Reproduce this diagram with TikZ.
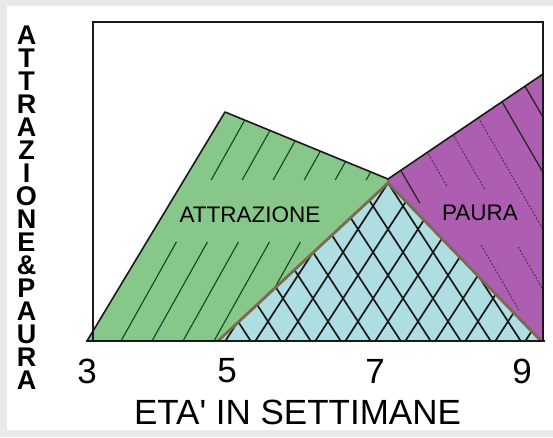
\documentclass[tikz,border=0pt]{standalone}
\usepackage{fontspec}
\setmainfont{Liberation Sans}
\definecolor{attr}{RGB}{135,199,137}
\definecolor{paura}{RGB}{174,94,176}
\definecolor{overlap}{RGB}{174,221,226}
\definecolor{rimcol}{RGB}{122,106,82}
\definecolor{panel}{RGB}{232,233,235}
\tikzset{
  tick/.style={inner sep=0pt, font=\fontsize{35}{36}\selectfont},
  axistitle/.style={inner sep=0pt, font=\fontsize{35}{36}\selectfont},
  ylab/.style={inner sep=0pt, align=center, font=\bfseries\fontsize{27}{23}\selectfont},
  zone/.style={inner sep=0pt, font=\fontsize{22.5}{24}\selectfont},
  hatchg/.style={line width=1.1pt, draw={rgb,255:red,15;green,70;blue,35}},
  hatchp/.style={line width=1.3pt, draw=black!85},
  dotp/.style={line width=0.8pt, draw=black!80, dash pattern=on 2pt off 1.5pt},
  mesh/.style={line width=1.7pt, draw=black!90},
  rim/.style={line width=2.8pt, draw=rimcol, line join=round},
  outline/.style={line width=1.6pt, draw=black!90, line join=round},
  frame/.style={line width=1.3pt, draw=black!90}
}
\begin{document}
\begin{tikzpicture}[x=1pt,y=-1pt]
  \useasboundingbox (0,0) rectangle (553,437);
  \fill[panel] (0,0) rectangle (553,437);
  \fill[white] (7,6) rectangle (553,430);
  % corners of the three zones
  \coordinate (g0) at (87,341);
  \coordinate (gtop) at (225,112);
  \coordinate (mid) at (388,179);
  \coordinate (b0) at (218,341);
  \coordinate (btop) at (388,183);
  \coordinate (b1) at (541,341);
  \coordinate (ptop) at (543,74);
  \coordinate (p1) at (543,341);
  \fill[attr] (g0) -- (gtop) -- (mid) -- (btop) -- (b0) -- cycle;
  \fill[paura] (mid) -- (ptop) -- (p1) -- (b1) -- (btop) -- cycle;
  \fill[overlap] (b0) -- (btop) -- (b1) -- cycle;
  % attrazione hatching
  \begin{scope}
    \clip (g0) -- (gtop) -- (mid) -- (btop) -- (b0) -- cycle;
    \foreach \k in {0,...,5} {
      \pgfmathsetmacro\xa{121+31*\k}
      \draw[hatchg] (\xa,341) -- ++(55.4,-99);
      \draw[hatchg] ({\xa+90.2},180) -- ++(70,-125);
    }
  \end{scope}
  % paura hatching
  \begin{scope}
    \clip (mid) -- (ptop) -- (p1) -- (b1) -- (btop) -- cycle;
    \foreach \c/\ya/\yb/\st in {302/60/203/hatchp, 339/60/187/dotp, 339/245/310/dotp,
        375/60/190/dotp, 375/247/290/dotp, 410/60/240/dotp, 443/60/180/hatchp, 475/60/130/hatchp}
      \draw[\st] ({\c+0.58*\ya},\ya) -- ({\c+0.58*\yb},\yb);
  \end{scope}
  % overlap lattice
  \begin{scope}
    \clip (b0) -- (btop) -- (b1) -- cycle;
    \foreach \k in {2,...,22} {
      \draw[mesh] ({15.3+30*\k},341) -- ++(110.5,-170);
      \draw[mesh] ({10.7+30*\k},341) -- ++(-110.5,-170);
    }
  \end{scope}
  \draw[rim] (b0) -- (btop) -- (b1);
  \draw[rim] (mid) -- (btop);
  \draw[outline] (g0) -- (gtop) -- (mid) -- (ptop);
  % frame and axis
  \draw[frame] (93,341) -- (93,22) -- (543,22) -- (543,341);
  \draw[frame] (86,341) -- (545,341);
  \node[tick] (t3) at (87,371) {3};
  \node[tick] (t5) at (227,371) {5};
  \node[tick] (t7) at (375,371) {7};
  \node[tick] (t9) at (522,371) {9};
  \node[axistitle] (xlab) at (297.5,412.5) {ETA\textquotesingle{} IN SETTIMANE};
  \node[zone] (attrlab) at (250,214.5) {ATTRAZIONE};
  \node[zone] (pauralab) at (480,213) {PAURA};
  \node[ylab] (ylabel) at (26.5,208) {A\\T\\T\\R\\A\\Z\\I\\O\\N\\E\\\&\\P\\A\\U\\R\\A};
\end{tikzpicture}
\end{document}
